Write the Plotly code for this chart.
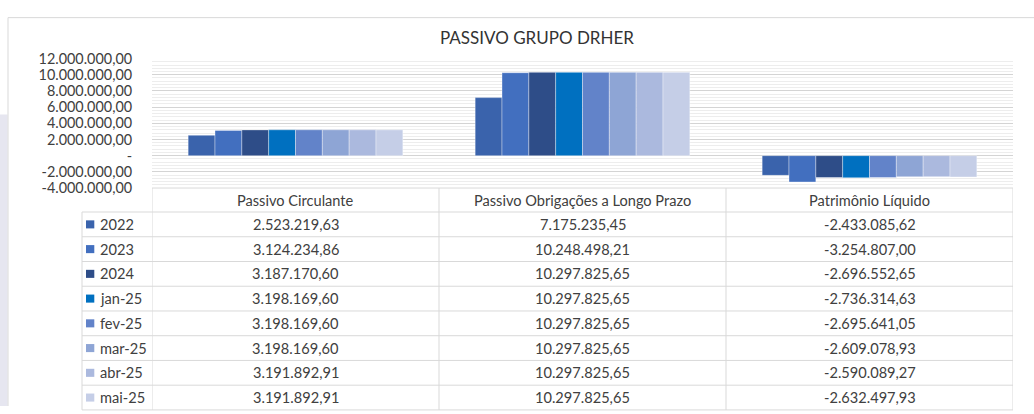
import plotly.graph_objects as go

# ---------------- data ----------------
categories = ["Passivo Circulante", "Passivo Obrigações a Longo Prazo", "Patrimônio Líquido"]
series_names = ["2022", "2023", "2024", "jan-25", "fev-25", "mar-25", "abr-25", "mai-25"]
v_2022 = [2523219.63, 7175235.45, -2433085.62]
v_2023 = [3124234.86, 10248498.21, -3254807.00]
v_2024 = [3187170.60, 10297825.65, -2696552.65]
v_jan25 = [3198169.60, 10297825.65, -2736314.63]
v_fev25 = [3198169.60, 10297825.65, -2695641.05]
v_mar25 = [3198169.60, 10297825.65, -2609078.93]
v_abr25 = [3191892.91, 10297825.65, -2590089.27]
v_mai25 = [3191892.91, 10297825.65, -2632497.93]
series_values = [v_2022, v_2023, v_2024, v_jan25, v_fev25, v_mar25, v_abr25, v_mai25]
tick_values = [12000000, 10000000, 8000000, 6000000, 4000000, 2000000, 0, -2000000, -4000000]
title_text = "PASSIVO GRUPO DRHER"

colors = ["#3A63AC", "#426FBF", "#2E4D88", "#0070C0", "#6283C9", "#8EA5D5", "#ABB9DE", "#C5CEE7"]

W, H = 1034, 414
FONT = "Lato"
TXT = "#404040"
LINE = "#d9d9d9"
TABLE_FS = 14.6


def fmt_br(v):
    if v == 0:
        return "-"
    s = f"{abs(v):,.2f}".replace(",", "X").replace(".", ",").replace("X", ".")
    return ("-" if v < 0 else "") + s


def px_x(x):
    return x / W


def px_y(y):
    return 1 - y / H


fig = go.Figure()
for name, vals, col in zip(series_names, series_values, colors):
    fig.add_trace(go.Bar(
        x=categories, y=vals, name=name,
        marker=dict(color=col, line=dict(color="rgba(255,255,255,0.45)", width=0.8)),
    ))

plot_top, plot_bot = 51.7, 186.7
fig.update_layout(
    width=W, height=H,
    margin=dict(l=0, r=0, t=0, b=0),
    paper_bgcolor="white", plot_bgcolor="white",
    barmode="group", bargap=0.252, bargroupgap=0,
    showlegend=False,
    font=dict(family=FONT, color=TXT),
    xaxis=dict(domain=[px_x(152), px_x(1013)], range=[-0.5, 2.5], showticklabels=False,
               showgrid=False, zeroline=False, showline=False, fixedrange=True),
    yaxis=dict(domain=[px_y(plot_bot), px_y(plot_top)], range=[-4000000, 12000000],
               tickvals=tick_values, ticktext=[fmt_br(v) for v in tick_values],
               tickfont=dict(family=FONT, size=14.4, color="#404040"),
               ticks="outside", ticklen=16, tickcolor="rgba(0,0,0,0)",
               showgrid=True, gridcolor="#d4d4d4", gridwidth=1,
               zeroline=False, showline=False,
               minor=dict(dtick=400000, showgrid=True, gridcolor="#ededed", gridwidth=1)),
)

shapes = []
annotations = []

# outer frame + left background strip
shapes.append(dict(type="rect", xref="paper", yref="paper", x0=0, x1=px_x(7.5), y0=0, y1=px_y(110),
                   fillcolor="#e6e6f0", line=dict(width=0), layer="below"))
shapes.append(dict(type="line", xref="paper", yref="paper", x0=px_x(8), x1=1, y0=px_y(9), y1=px_y(9),
                   line=dict(color=LINE, width=1)))
shapes.append(dict(type="line", xref="paper", yref="paper", x0=px_x(8), x1=px_x(8), y0=0, y1=px_y(9),
                   line=dict(color=LINE, width=1)))

# title
annotations.append(dict(text=title_text, xref="paper", yref="paper", x=px_x(537), y=px_y(30),
                        showarrow=False, xanchor="center", yanchor="middle",
                        font=dict(family=FONT, size=17, color="#333333")))

# data table
header_top = 186.7
row_h = 25.8
body_top = header_top + 25.0
n_rows = len(series_names)
body_bot = body_top + row_h * n_rows
leg_left = 82

shapes.append(dict(type="line", xref="x", yref="paper", x0=-0.5, x1=2.5, y0=px_y(header_top), y1=px_y(header_top),
                   line=dict(color=LINE, width=1)))
for i in range(n_rows + 1):
    yy = body_top + i * row_h
    shapes.append(dict(type="line", xref="paper", yref="paper", x0=px_x(leg_left), x1=px_x(1013),
                       y0=px_y(yy), y1=px_y(yy), line=dict(color=LINE, width=1)))
for xb in [-0.5, 0.5, 1.5, 2.5]:
    shapes.append(dict(type="line", xref="x", yref="paper", x0=xb, x1=xb,
                       y0=px_y(body_bot), y1=px_y(header_top), line=dict(color=LINE, width=1)))
shapes.append(dict(type="line", xref="paper", yref="paper", x0=px_x(leg_left), x1=px_x(leg_left),
                   y0=px_y(body_bot), y1=px_y(body_top), line=dict(color=LINE, width=1)))

for ci, cat in enumerate(categories):
    annotations.append(dict(text=cat, xref="x", yref="paper", x=ci, y=px_y(header_top + 12.5),
                            showarrow=False, xanchor="center", yanchor="middle",
                            font=dict(family=FONT, size=TABLE_FS, color=TXT)))

for ri, (name, vals, col) in enumerate(zip(series_names, series_values, colors)):
    yc = body_top + ri * row_h + row_h / 2
    shapes.append(dict(type="rect", xref="paper", yref="paper", x0=px_x(86), x1=px_x(94.3),
                       y0=px_y(yc + 4.2), y1=px_y(yc - 4.2), fillcolor=col, line=dict(width=0)))
    annotations.append(dict(text=name, xref="paper", yref="paper", x=px_x(97.5), y=px_y(yc),
                            showarrow=False, xanchor="left", yanchor="middle",
                            font=dict(family=FONT, size=TABLE_FS, color=TXT)))
    for ci, v in enumerate(vals):
        annotations.append(dict(text=fmt_br(v), xref="x", yref="paper", x=ci, y=px_y(yc),
                                showarrow=False, xanchor="center", yanchor="middle",
                                font=dict(family=FONT, size=TABLE_FS, color=TXT)))

fig.update_layout(shapes=shapes, annotations=annotations)

fix_page = "document.body.style.margin='0';document.body.style.overflow='hidden';"
fig.write_html("out.html", config={"displayModeBar": False}, post_script=fix_page)
